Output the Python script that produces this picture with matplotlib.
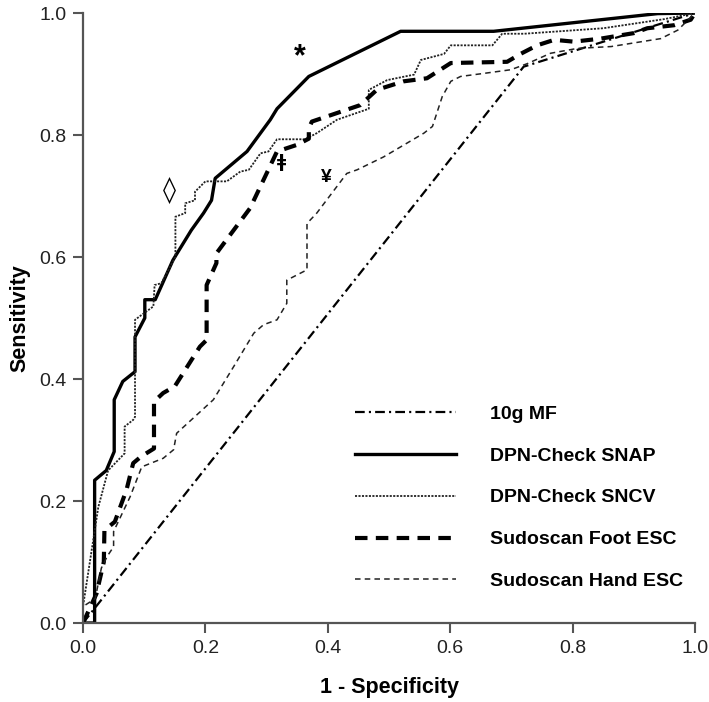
import matplotlib
matplotlib.use("Agg")
import matplotlib.pyplot as plt

plt.rcParams['font.family'] = ['Liberation Sans', 'DejaVu Sans']
plt.rcParams['lines.scale_dashes'] = False

# ---- data ----
mf_x = [0.0, 0.72, 1.0]
mf_y = [0.0, 0.912, 1.0]

snap_x = [0.0, 0.019, 0.019, 0.038, 0.051, 0.051, 0.065, 0.085, 0.085, 0.101, 0.101, 0.118,
          0.147, 0.177, 0.197, 0.210, 0.216, 0.268, 0.306, 0.317, 0.369, 0.519, 0.671, 0.939, 1.0]
snap_y = [0.0, 0.0, 0.234, 0.250, 0.281, 0.366, 0.396, 0.412, 0.469, 0.500, 0.530, 0.530,
          0.595, 0.644, 0.672, 0.693, 0.729, 0.773, 0.825, 0.843, 0.896, 0.970, 0.970, 0.999, 1.0]

sncv_x = [0.0, 0.0, 0.025, 0.041, 0.068, 0.068, 0.082, 0.085, 0.085, 0.093, 0.115, 0.117, 0.128,
          0.151, 0.151, 0.167, 0.167, 0.183, 0.183, 0.200, 0.235, 0.257, 0.271, 0.290, 0.303,
          0.317, 0.363, 0.382, 0.415, 0.467, 0.467, 0.497, 0.541, 0.552, 0.590, 0.601, 0.669,
          0.685, 0.721, 0.850, 0.950, 1.0]
sncv_y = [0.0, 0.027, 0.190, 0.250, 0.278, 0.322, 0.333, 0.338, 0.497, 0.503, 0.519, 0.554, 0.557,
          0.600, 0.666, 0.672, 0.688, 0.693, 0.707, 0.724, 0.724, 0.740, 0.743, 0.770, 0.773,
          0.793, 0.793, 0.803, 0.825, 0.843, 0.874, 0.890, 0.899, 0.923, 0.933, 0.947, 0.947,
          0.966, 0.966, 0.975, 0.990, 1.0]

foot_x = [0.0, 0.022, 0.034, 0.035, 0.052, 0.071, 0.082, 0.095, 0.116, 0.116, 0.131, 0.150,
          0.191, 0.202, 0.202, 0.218, 0.218, 0.238, 0.273, 0.300, 0.317, 0.350, 0.369, 0.369,
          0.374, 0.453, 0.480, 0.524, 0.562, 0.601, 0.693, 0.715, 0.742, 0.770, 0.802, 0.846,
          0.900, 0.922, 0.966, 0.993, 1.0]
foot_y = [0.0, 0.048, 0.100, 0.152, 0.166, 0.218, 0.262, 0.273, 0.286, 0.363, 0.377, 0.388,
          0.453, 0.464, 0.554, 0.590, 0.606, 0.633, 0.680, 0.737, 0.773, 0.784, 0.794, 0.811,
          0.822, 0.849, 0.874, 0.888, 0.893, 0.918, 0.920, 0.933, 0.947, 0.956, 0.953, 0.958,
          0.967, 0.975, 0.980, 0.989, 1.0]

hand_x = [0.0, 0.0, 0.02, 0.03, 0.04, 0.05, 0.05, 0.077, 0.096, 0.131, 0.148, 0.153, 0.213,
          0.246, 0.279, 0.295, 0.317, 0.333, 0.333, 0.366, 0.366, 0.382, 0.431, 0.448, 0.491,
          0.557, 0.571, 0.587, 0.601, 0.617, 0.655, 0.699, 0.726, 0.764, 0.808, 0.863, 0.944,
          0.972, 1.0]
hand_y = [0.0, 0.027, 0.040, 0.090, 0.110, 0.125, 0.150, 0.207, 0.256, 0.270, 0.284, 0.311, 0.366,
          0.420, 0.475, 0.489, 0.497, 0.524, 0.562, 0.579, 0.655, 0.672, 0.737, 0.743, 0.764,
          0.803, 0.814, 0.863, 0.888, 0.896, 0.901, 0.907, 0.917, 0.934, 0.942, 0.945, 0.958,
          0.972, 1.0]

labels = ['10g MF', 'DPN-Check SNAP', 'DPN-Check SNCV', 'Sudoscan Foot ESC', 'Sudoscan Hand ESC']
ticks = [0.0, 0.2, 0.4, 0.6, 0.8, 1.0]
tick_labels = ['0.0', '0.2', '0.4', '0.6', '0.8', '1.0']

annotations = [('*', 0.355, 0.928), ('\u25CA', 0.142, 0.708), ('\u01C2', 0.325, 0.756), ('\u00A5', 0.397, 0.731)]

# ---- figure ----
fig = plt.figure(figsize=(7.09, 7.02), dpi=100)
ax = fig.add_axes([83/709, 1 - 623/702, (695-83)/709, (623-13)/702])

ax.plot(mf_x, mf_y, color='black', lw=1.6, linestyle=(0, (7, 3, 1.5, 3)), label=labels[0])
ax.plot(snap_x, snap_y, color='black', lw=2.4, linestyle='-', label=labels[1])
ax.plot(sncv_x, sncv_y, color='#222222', lw=1.3, linestyle=(0, (1.5, 1.0)), label=labels[2])
ax.plot(foot_x, foot_y, color='black', lw=3.0, linestyle=(0, (9, 6)), label=labels[3])
ax.plot(hand_x, hand_y, color='#222222', lw=1.1, linestyle=(0, (4, 3)), label=labels[4])

sizes = {'*': 22, '\u25CA': 19, '\u01C2': 12, '\u00A5': 14}
for s, x, y in annotations:
    ax.text(x, y, s, ha='center', va='center', fontsize=sizes[s], fontweight='bold',
            family=['DejaVu Sans'] if s in ('\u25CA', '\u01C2') else ['Liberation Sans', 'DejaVu Sans'])

ax.set_xlim(0, 1)
ax.set_ylim(0, 1)
ax.set_xticks(ticks)
ax.set_xticklabels(tick_labels)
ax.set_yticks(ticks)
ax.set_yticklabels(tick_labels)
for sp in ('top', 'right'):
    ax.spines[sp].set_visible(False)
for sp in ('left', 'bottom'):
    ax.spines[sp].set_color('#555555')
    ax.spines[sp].set_linewidth(1.6)
ax.tick_params(axis='both', direction='out', length=7, width=1.5, color='#555555',
               labelsize=14, pad=5, labelcolor='#222222')

ax.set_xlabel('1 - Specificity', fontsize=15.5, fontweight='bold', labelpad=15)
ax.set_ylabel('Sensitivity', fontsize=15.5, fontweight='bold', labelpad=6)

leg = ax.legend(loc='upper left', bbox_to_anchor=(355/709, 1 - 405/702), bbox_transform=fig.transFigure,
                frameon=False, fontsize=14, handlelength=5.2, handletextpad=1.75,
                labelspacing=1.25, borderpad=0, borderaxespad=0)
for t in leg.get_texts():
    t.set_fontweight('bold')

fig.savefig('out.png', dpi=100)
